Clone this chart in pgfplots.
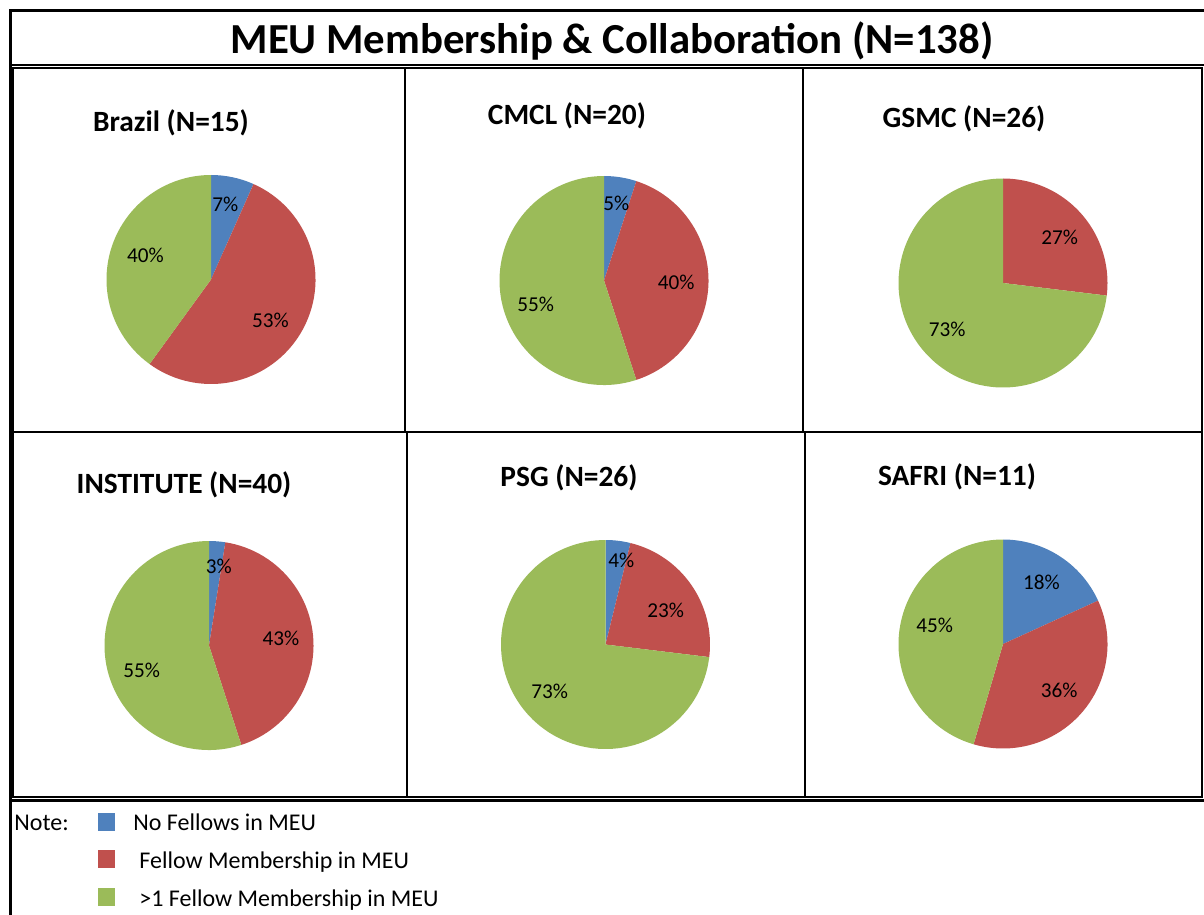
\documentclass[border=0pt]{standalone}
\usepackage{pgfplots}
\pgfplotsset{compat=1.18}
\usepackage{pgfplotstable}
\usepackage{fontspec}
\setmainfont{Carlito}
\definecolor{cblue}{HTML}{4F81BD}
\definecolor{cred}{HTML}{C0504D}
\definecolor{cgreen}{HTML}{9BBB59}

% count per category, label percent, colour, label nudge (px: right, down)
\pgfplotstableread{
count pct color dx dy
1 7 cblue -1 -4
8 53 cred -4 4
6 40 cgreen 4 -2
}\tBrazil
\pgfplotstableread{
count pct color dx dy
1 5 cblue 1 -5
8 40 cred -1 2
11 55 cgreen 4 12
}\tCMCL
\pgfplotstableread{
count pct color dx dy
7 27 cred 2 3
19 73 cgreen -1 -2
}\tGSMC
\pgfplotstableread{
count pct color dx dy
1 3 cblue 4 -6
17 43 cred -1 -1
22 55 cgreen 5 13
}\tINST
\pgfplotstableread{
count pct color dx dy
1 4 cblue 7 -12
6 23 cred 0 7
19 73 cgreen -1 -2
}\tPSG
\pgfplotstableread{
count pct color dx dy
2 18 cblue -1 0
4 36 cred 1 -2
5 45 cgreen 4 -8
}\tSAFRI

\newcommand\pieRpx{104.5}
\newcommand\pieR{52.25pt}
\newcommand\labfont{\fontsize{10.6}{12}\selectfont}
% #1 table, #2 = 0: slices, 1: labels
\newcommand\pieslices[2]{%
  \pgfplotstablegetrowsof{#1}%
  \pgfmathtruncatemacro\nr{\pgfplotsretval-1}%
  \def\tot{0}%
  \pgfplotsforeachungrouped \rowi in {0,...,\nr}{%
    \pgfplotstablegetelem{\rowi}{count}\of{#1}%
    \pgfmathsetmacro\tot{\tot+\pgfplotsretval}}%
  \def\cum{0}%
  \pgfplotsforeachungrouped \rowi in {0,...,\nr}{%
    \pgfplotstablegetelem{\rowi}{count}\of{#1}\let\cnt\pgfplotsretval
    \pgfplotstablegetelem{\rowi}{pct}\of{#1}\let\lab\pgfplotsretval
    \pgfplotstablegetelem{\rowi}{color}\of{#1}\let\col\pgfplotsretval
    \pgfplotstablegetelem{\rowi}{dx}\of{#1}\let\ndx\pgfplotsretval
    \pgfplotstablegetelem{\rowi}{dy}\of{#1}\let\ndy\pgfplotsretval
    \pgfmathsetmacro\angA{90-360*\cum/\tot}%
    \pgfmathsetmacro\cum{\cum+\cnt}%
    \pgfmathsetmacro\angB{90-360*\cum/\tot}%
    \pgfmathsetmacro\angM{(\angA+\angB)/2}%
    \pgfmathsetmacro\sx{cos(\angA)}\pgfmathsetmacro\sy{sin(\angA)}%
    \pgfmathsetmacro\lx{0.7*cos(\angM)+\ndx/\pieRpx}%
    \pgfmathsetmacro\ly{0.7*sin(\angM)-\ndy/\pieRpx}%
    \ifnum#2=0
      \edef\doit{\noexpand\fill[\col] (axis cs:0,0) -- (axis cs:\sx,\sy) arc[start angle=\angA, end angle=\angB, radius=\pieR] -- cycle;}%
    \else
      \edef\doit{\noexpand\node[font=\noexpand\labfont] at (axis cs:\lx,\ly) {\lab\noexpand\%};}%
    \fi
    \doit
  }%
}
% #1,#2: centre in pixels (0.5pt each, y downward)
\newcommand\pie[3]{%
  \begin{axis}[at={({#1*0.5pt},{-#2*0.5pt})}, anchor=center, hide axis, x=\pieR, y=\pieR,
      xmin=-1, xmax=1, ymin=-1, ymax=1, clip=false]
    \addplot[draw=none] coordinates {(0,0)};
    \pieslices{#3}{0}
    \pieslices{#3}{1}
  \end{axis}}

\begin{document}
\begin{tikzpicture}[x=0.5pt, y=-0.5pt]
\useasboundingbox (0,0) rectangle (1204,915);
% frame
\draw[line width=1.5pt] (10.5,10) -- (10.5,915);
\draw[line width=1.5pt] (9,10.5) -- (1204,10.5);
\draw[line width=1pt] (10,65.5) -- (1204,65.5);
\draw[line width=1pt] (13,68) rectangle (405,432);
\draw[line width=1pt] (405,68) rectangle (803,432);
\draw[line width=1pt] (803,68) rectangle (1202,432);
\draw[line width=1pt] (13,432) rectangle (407,797);
\draw[line width=1pt] (407,432) rectangle (805,797);
\draw[line width=1pt] (805,432) rectangle (1202,797);
\draw[line width=1.75pt] (9,800.5) -- (1204,800.5);
% title
\node[anchor=base, font=\bfseries\fontsize{21.4}{24}\selectfont] at (612,53.3) {MEU Membership \& Collaboration (N=138)};
% pie titles
\begin{scope}[every node/.style={anchor=base, font=\bfseries\fontsize{14.7}{17}\selectfont}]
\node at (171,131.5) {Brazil (N=15)};
\node at (567,125) {CMCL (N=20)};
\node at (964,127) {GSMC (N=26)};
\node at (184,493) {INSTITUTE (N=40)};
\node at (569,486) {PSG (N=26)};
\node at (957,485) {SAFRI (N=11)};
\end{scope}
% pies
\pie{211}{279.5}{\tBrazil}
\pie{604}{280.5}{\tCMCL}
\pie{1003}{283}{\tGSMC}
\pie{209}{645.5}{\tINST}
\pie{605.5}{644.5}{\tPSG}
\pie{1003}{644}{\tSAFRI}
% note / legend
\begin{scope}[every node/.style={anchor=base west, font=\fontsize{12}{14}\selectfont, inner sep=0pt}]
\node at (14,830.7) {Note:};
\fill[cblue] (98,813) rectangle (115,831);
\fill[cred] (98,850) rectangle (115,868);
\fill[cgreen] (98,888) rectangle (115,906);
\node at (133,830.7) {No Fellows in MEU};
\node at (139,868) {Fellow Membership in MEU};
\node at (139,906) {>1 Fellow Membership in MEU};
\end{scope}
\end{tikzpicture}
\end{document}
